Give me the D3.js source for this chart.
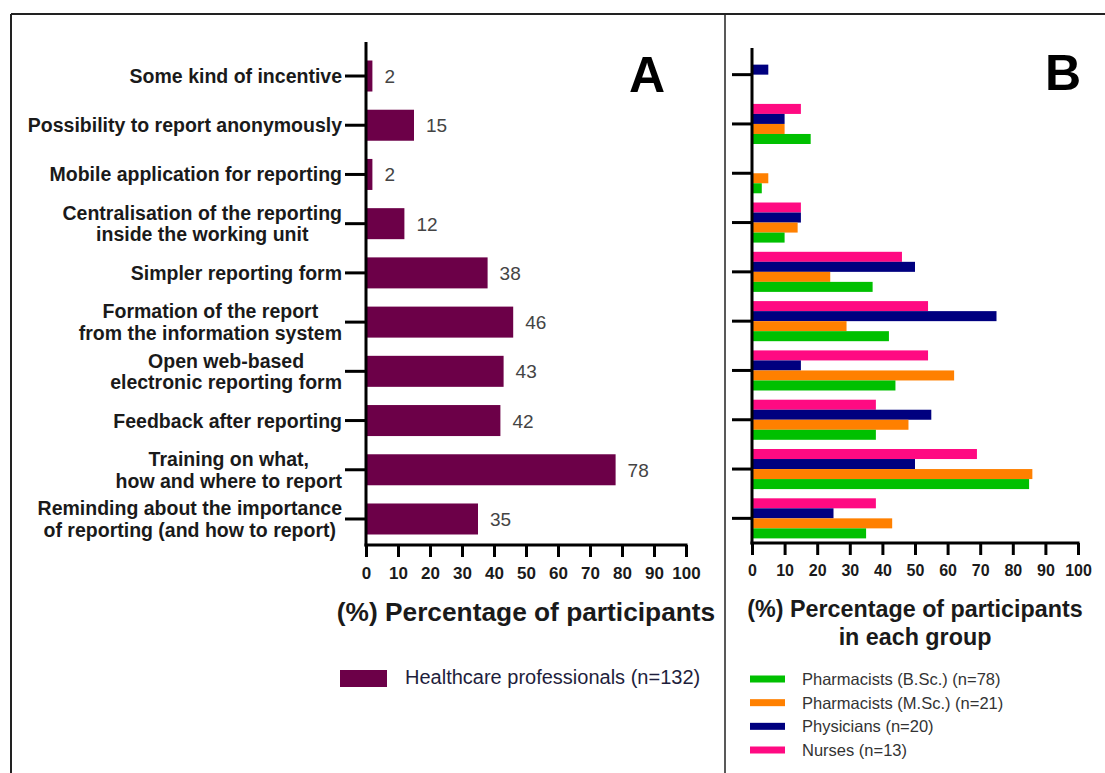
<!DOCTYPE html>
<html>
<head>
<meta charset="utf-8">
<script src="https://cdn.jsdelivr.net/npm/d3@7"></script>
<style>
  html, body { margin: 0; padding: 0; background: #fff; }
  svg { display: block; font-family: "Liberation Sans", Arial, sans-serif; }
</style>
</head>
<body>
<svg id="chart" width="1105" height="773"></svg>
<script>
// Suggested improvements to reporting, top to bottom
const categories = [
  "Some kind of incentive",
  "Possibility to report anonymously",
  "Mobile application for reporting",
  "Centralisation of the reporting\ninside the working unit",
  "Simpler reporting form",
  "Formation of the report\nfrom the information system",
  "Open web-based\nelectronic reporting form",
  "Feedback after reporting",
  "Training on what,\nhow and where to report",
  "Reminding about the importance\nof reporting (and how to report)"
];

// Panel A: all healthcare professionals (%)
const allProfessionals = [2, 15, 2, 12, 38, 46, 43, 42, 78, 35];

// Panel B: per professional group (%)
const nurses         = [0, 15, 0, 15, 46, 54, 54, 38, 69, 38];
const physicians     = [5, 10, 0, 15, 50, 75, 15, 55, 50, 25];
const pharmacistsMSc = [0, 10, 5, 14, 24, 29, 62, 48, 86, 43];
const pharmacistsBSc = [0, 18, 3, 10, 37, 42, 44, 38, 85, 35];

const xTicks = [0, 10, 20, 30, 40, 50, 60, 70, 80, 90, 100];

const groupNames = [
  "Nurses (n=13)",
  "Physicians (n=20)",
  "Pharmacists (M.Sc.)  (n=21)",
  "Pharmacists (B.Sc.) (n=78)"
];
const legendOrder = [
  "Pharmacists (B.Sc.) (n=78)",
  "Pharmacists (M.Sc.)  (n=21)",
  "Physicians (n=20)",
  "Nurses (n=13)"
];
const groupColors = ["#ff0a82", "#00007f", "#ff8000", "#00c000"];
const allLabel = "Healthcare professionals (n=132)";
const barColorA = "#6c0048";

const svg = d3.select("#chart");
const ink = "#1a1a1a";

// ---- frame ----
svg.append("line").attr("x1", 11).attr("x2", 1105).attr("y1", 14).attr("y2", 14)
  .attr("stroke", "#222").attr("stroke-width", 2);
svg.append("line").attr("x1", 11).attr("x2", 11).attr("y1", 14).attr("y2", 773)
  .attr("stroke", "#222").attr("stroke-width", 2);
svg.append("line").attr("x1", 725).attr("x2", 725).attr("y1", 14).attr("y2", 773)
  .attr("stroke", "#222").attr("stroke-width", 1.5);

function styleAxis(g) {
  g.selectAll("path.domain").remove();
  g.selectAll(".tick line").attr("stroke", "#000").attr("stroke-width", 3);
}

// ================= Panel A =================
const xA = d3.scaleLinear().domain([0, 100]).range([366, 686]);
const yA = d3.scaleBand().domain(categories).range([51.4, 543.6])
  .paddingInner(0.37).paddingOuter(0.185);

const gA = svg.append("g");

gA.selectAll("rect.bar").data(categories).join("rect")
  .attr("class", "bar")
  .attr("x", xA(0))
  .attr("y", d => yA(d))
  .attr("width", (d, i) => xA(allProfessionals[i]) - xA(0))
  .attr("height", yA.bandwidth())
  .attr("fill", barColorA);

gA.selectAll("text.val").data(categories).join("text")
  .attr("class", "val")
  .attr("x", (d, i) => xA(allProfessionals[i]) + 12)
  .attr("y", d => yA(d) + yA.bandwidth() / 2 + 7)
  .attr("font-size", 19)
  .attr("fill", "#444")
  .text((d, i) => allProfessionals[i]);

// y axis A
gA.append("g").attr("transform", `translate(${xA(0)},0)`)
  .call(d3.axisLeft(yA).tickSize(21).tickSizeOuter(0).tickFormat(""))
  .call(styleAxis);
gA.append("line").attr("x1", xA(0)).attr("x2", xA(0)).attr("y1", 42).attr("y2", 546.5)
  .attr("stroke", "#000").attr("stroke-width", 3);

// category labels, each block centred on itself and right-aligned to the ticks
const labelRight = 342;
const lineH = 21.5;
categories.forEach(cat => {
  const lines = cat.split("\n");
  const cy = yA(cat) + yA.bandwidth() / 2;
  const t = gA.append("text")
    .attr("font-size", 19.5).attr("font-weight", "bold").attr("fill", ink)
    .attr("text-anchor", "middle");
  lines.forEach((ln, k) => {
    t.append("tspan").attr("y", cy + 7 + (k - (lines.length - 1) / 2) * lineH).text(ln);
  });
  let maxW = 0;
  t.selectAll("tspan").each(function () { maxW = Math.max(maxW, this.getComputedTextLength()); });
  t.selectAll("tspan").attr("x", labelRight - maxW / 2);
});

// x axis A
const xAxisA = gA.append("g").attr("transform", "translate(0,545)")
  .call(d3.axisBottom(xA).tickValues(xTicks).tickSize(12).tickSizeOuter(0).tickPadding(10))
  .call(styleAxis);
xAxisA.selectAll("text").attr("font-size", 17).attr("font-weight", "bold")
  .attr("fill", ink).attr("font-family", "Liberation Sans, Arial, sans-serif");
gA.append("line").attr("x1", xA(0) - 1.5).attr("x2", xA(100) + 1.5).attr("y1", 545).attr("y2", 545)
  .attr("stroke", "#000").attr("stroke-width", 3);

gA.append("text").attr("x", (xA(0) + xA(100)) / 2).attr("y", 621)
  .attr("text-anchor", "middle").attr("font-size", 26.3).attr("font-weight", "bold")
  .attr("fill", ink).text("(%) Percentage of participants");

gA.append("text").attr("x", 647).attr("y", 92).attr("text-anchor", "middle")
  .attr("font-size", 50).attr("font-weight", "bold").attr("fill", "#000").text("A");

// legend A
gA.append("rect").attr("x", 340).attr("y", 670).attr("width", 47).attr("height", 17)
  .attr("fill", barColorA);
gA.append("text").attr("x", 405).attr("y", 684).attr("font-size", 20)
  .attr("fill", "#1e1e3c").text(allLabel);

// ================= Panel B =================
const xB = d3.scaleLinear().domain([0, 100]).range([752, 1078]);
const yB = d3.scaleBand().domain(categories).range([50, 543])
  .paddingInner(0.187).paddingOuter(0.0935);
const ySub = d3.scaleBand().domain(groupNames).range([0, yB.bandwidth()]);
const seriesB = [nurses, physicians, pharmacistsMSc, pharmacistsBSc];

const gB = svg.append("g");

groupNames.forEach((gname, si) => {
  gB.selectAll(null).data(categories).join("rect")
    .attr("x", xB(0))
    .attr("y", d => yB(d) + ySub(gname))
    .attr("width", (d, i) => xB(seriesB[si][i]) - xB(0))
    .attr("height", ySub.bandwidth())
    .attr("fill", groupColors[si]);
});

gB.append("g").attr("transform", `translate(${xB(0)},0)`)
  .call(d3.axisLeft(yB).tickSize(20).tickSizeOuter(0).tickFormat(""))
  .call(styleAxis);
gB.append("line").attr("x1", xB(0)).attr("x2", xB(0)).attr("y1", 48).attr("y2", 544.5)
  .attr("stroke", "#000").attr("stroke-width", 3);

const xAxisB = gB.append("g").attr("transform", "translate(0,543)")
  .call(d3.axisBottom(xB).tickValues(xTicks).tickSize(12).tickSizeOuter(0).tickPadding(10))
  .call(styleAxis);
xAxisB.selectAll("text").attr("font-size", 16).attr("font-weight", "bold")
  .attr("fill", ink).attr("font-family", "Liberation Sans, Arial, sans-serif");
gB.append("line").attr("x1", xB(0) - 1.5).attr("x2", xB(100) + 1.5).attr("y1", 543).attr("y2", 543)
  .attr("stroke", "#000").attr("stroke-width", 3);

const titleB = gB.append("text").attr("text-anchor", "middle").attr("font-size", 23.3)
  .attr("font-weight", "bold").attr("fill", ink);
titleB.append("tspan").attr("x", (xB(0) + xB(100)) / 2).attr("y", 617).text("(%) Percentage of participants");
titleB.append("tspan").attr("x", (xB(0) + xB(100)) / 2).attr("y", 645).text("in each group");

gB.append("text").attr("x", 1063).attr("y", 90).attr("text-anchor", "middle")
  .attr("font-size", 50).attr("font-weight", "bold").attr("fill", "#000").text("B");

// legend B
const legendY = d3.scalePoint().domain(legendOrder).range([679, 750]);
legendOrder.forEach(name => {
  const c = groupColors[groupNames.indexOf(name)];
  gB.append("rect").attr("x", 750).attr("y", legendY(name) - 3.5).attr("width", 35).attr("height", 7)
    .attr("fill", c);
  gB.append("text").attr("x", 802).attr("y", legendY(name) + 6).attr("font-size", 16.5)
    .attr("fill", "#333").text(name);
});
</script>
</body>
</html>
